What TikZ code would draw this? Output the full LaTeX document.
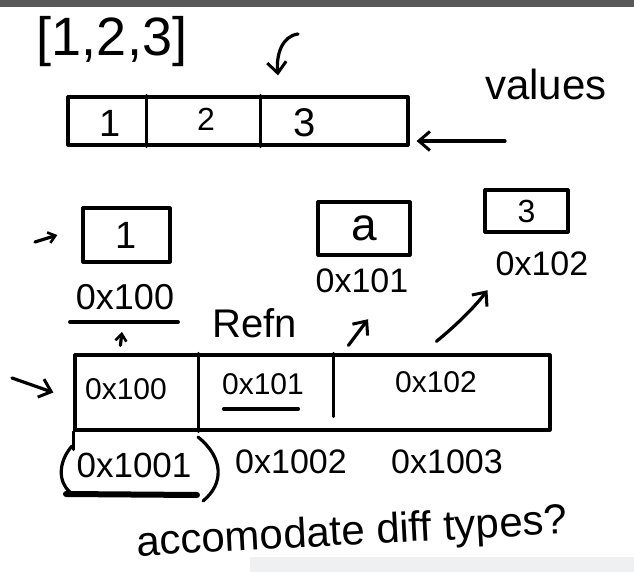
\documentclass[tikz,border=0pt]{standalone}
\usepackage{fontspec}
\setmainfont{Liberation Sans}
\usetikzlibrary{arrows.meta,calc}
\begin{document}
\begin{tikzpicture}[x=1pt,y=-1pt,line cap=round,line join=round,
  ink/.style={line width=3.2pt,black},
  hw/.style={inner sep=0pt,text=black},
  cellbox/.style={ink,draw,rectangle,inner sep=0pt},
  arr/.style={ink,-{Straight Barb[length=11pt,width=19pt,line width=3pt]}},
  sarr/.style={ink,-{Straight Barb[length=7pt,width=11pt,line width=2.6pt]}}]
\useasboundingbox (0,0) rectangle (634,572);
\fill[white] (0,0) rectangle (634,572);
\fill[black!65] (0,0) rectangle (634,7);
\fill[cyan!8!black!7] (250,557) rectangle (634,572);

% top: list and values array
\node[hw,font=\fontsize{54}{58}\selectfont] (list) at (112,42) {[1,2,3]};
\node[cellbox,minimum width=340pt,minimum height=48pt] (top) at (238,121) {};
\draw[ink] ([xshift=80pt]top.north west) -- ([xshift=80pt]top.south west);
\draw[ink] ([xshift=194pt]top.north west) -- ([xshift=194pt]top.south west);
\node[hw,font=\fontsize{38}{42}\selectfont] (v1) at (110,123) {1};
\node[hw,font=\fontsize{32}{36}\selectfont] (v2) at (206,119) {2};
\node[hw,font=\fontsize{40}{44}\selectfont] (v3) at (305,123) {3};
\coordinate (c1s) at (298,34);
\coordinate (c1e) at ($(top.north)+(40,-20)$);
\draw[arr] (c1s) .. controls (282,36) and (276,55) .. (c1e);
\node[hw,font=\fontsize{42}{46}\selectfont] (vals) at (546,84) {values};
\coordinate (vs) at (505,141);
\draw[arr] (vs) -- ([xshift=7pt]top.east |- vs);

% boxes
\node[cellbox,minimum width=87pt,minimum height=54pt] (b1) at (126.5,235) {};
\node[hw,font=\fontsize{38}{42}\selectfont] at (b1) {1};
\node[cellbox,minimum width=92pt,minimum height=53pt] (ba) at (364,228.5) {};
\node[hw,font=\fontsize{46}{50}\selectfont] at (ba) {a};
\node[cellbox,minimum width=83pt,minimum height=42pt] (b3) at (526.5,211) {};
\node[hw,font=\fontsize{32}{36}\selectfont] at (b3) {3};
\coordinate (sa) at (35,242);
\draw[sarr] (sa) -- ($(b1.west)+(-24,0)$);

% address labels
\node[hw,font=\fontsize{36}{40}\selectfont] (l100) at (125,297) {0x100};
\draw[ink] ($(l100.south west)+(-6,12)$) -- ($(l100.south east)+(4,12)$);
\node[hw,font=\fontsize{34}{38}\selectfont] (l101) at (362,281) {0x101};
\node[hw,font=\fontsize{34}{38}\selectfont] (l102) at (542,264) {0x102};
\node[hw,font=\fontsize{40}{44}\selectfont] (refn) at (255,323) {Refn};

% bottom array
\node[cellbox,minimum width=475pt,minimum height=75pt] (bot) at (312.5,392.5) {};
\draw[ink] (bot.south west) -- ++(0,18);
\draw[ink] ([xshift=125pt]bot.north west) -- ([xshift=125pt]bot.south west);
\draw[ink] ([xshift=260pt]bot.north west) -- ([xshift=260pt,yshift=15pt]bot.south west);
\node[hw,font=\fontsize{30}{34}\selectfont] (a100) at (126,389) {0x100};
\node[hw,font=\fontsize{30}{34}\selectfont] (a101) at (263,384) {0x101};
\draw[line width=4pt] ($(a101.south west)+(2,14)$) -- ($(a101.south east)+(-6,14)$);
\node[hw,font=\fontsize{30}{34}\selectfont] (a102) at (436,382) {0x102};
\coordinate (la) at (12,378);
\draw[arr] (la) -- ($(bot.west)+(-20,0)$);

% reference arrows
\draw[sarr] ([xshift=47pt,yshift=8pt]bot.north west) -- ($(l100.south)+(-3,22)$);
\draw[arr] ([xshift=275pt,yshift=8pt]bot.north west) -- ($(l101.south)+(6,26)$);
\coordinate (r3) at ($(l102.south west)+(-8,14)$);
\draw[arr] ([xshift=363pt,yshift=12pt]bot.north west) .. controls (465,318) and (480,300) .. (r3);

% addresses below
\node[hw,font=\fontsize{35}{39}\selectfont] (m1) at (134,465) {0x1001};
\draw[line width=6pt] (66,494) -- (197,495);
\draw[ink] (72,446) .. controls (58,462) and (58,482) .. (70,492);
\draw[ink] (198,437) .. controls (224,458) and (224,484) .. (203,501);
\node[hw,font=\fontsize{34}{38}\selectfont] (m2) at (291,462) {0x1002};
\node[hw,font=\fontsize{34}{38}\selectfont] (m3) at (447,462) {0x1003};

\node[hw,font=\fontsize{42}{46}\selectfont,rotate=3] (acc) at (352,534) {accomodate diff types?};
\end{tikzpicture}
\end{document}
